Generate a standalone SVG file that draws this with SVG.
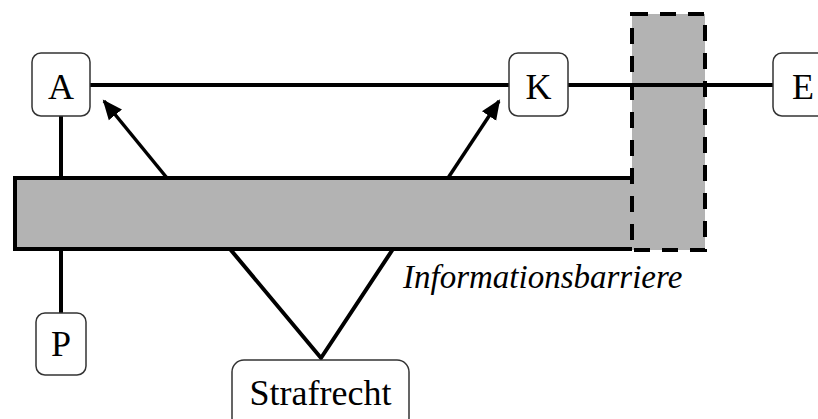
<svg xmlns="http://www.w3.org/2000/svg" width="818" height="419" viewBox="0 0 818 419">
<style>
.node{fill:#fff;stroke:#333;stroke-width:1.5}
.lbl{font-family:"Liberation Serif","Times New Roman",serif;font-size:36px;fill:#000;text-anchor:middle}
.ital{font-family:"Liberation Serif","Times New Roman",serif;font-size:33px;font-style:italic;fill:#000}
.ln{stroke:#000;stroke-width:4;fill:none}
.arr{stroke:#000;stroke-width:3.5;fill:none;marker-end:url(#ah)}
</style>
<defs>
<marker id="ah" markerUnits="userSpaceOnUse" markerWidth="22" markerHeight="18" refX="18" refY="8.5" orient="auto" viewBox="0 0 22 17">
<path d="M0,0 L20,8.5 L0,17 Z" fill="#000"/>
</marker>
</defs>
<g id="barrier-horizontal">
<rect x="15" y="178" width="618" height="71" fill="#b3b3b3"/>
<path d="M632,178 H15 V249 H632" class="ln"/>
</g>
<g id="barrier-vertical">
<rect x="632" y="14" width="73" height="236" fill="#b3b3b3" stroke="#000" stroke-width="4" stroke-dasharray="16,12"/>
</g>
<g id="connectors">
<line x1="90" y1="85" x2="773" y2="85" class="ln"/>
<line x1="61" y1="116" x2="61" y2="178" class="ln"/>
<line x1="61" y1="249" x2="61" y2="313" class="ln"/>
<polyline points="230,249 321,358 393,249" class="ln" stroke-linejoin="miter"/>
<line x1="167" y1="178" x2="104" y2="101" class="arr"/>
<line x1="448" y1="178" x2="499" y2="101" class="arr"/>
</g>
<g id="node-A">
<rect x="32" y="53" width="58" height="63" rx="9" class="node"/>
<text x="61" y="99" class="lbl">A</text>
</g>
<g id="node-K">
<rect x="509" y="53" width="59" height="63" rx="9" class="node"/>
<text x="538.5" y="99" class="lbl">K</text>
</g>
<g id="node-E">
<rect x="773" y="53" width="60" height="63" rx="9" class="node"/>
<text x="803" y="99" class="lbl">E</text>
</g>
<g id="node-P">
<rect x="36" y="313" width="50" height="62" rx="9" class="node"/>
<text x="61" y="356" class="lbl">P</text>
</g>
<g id="node-Strafrecht">
<rect x="232" y="360" width="177" height="70" rx="12" class="node"/>
<text x="320.5" y="405" class="lbl">Strafrecht</text>
</g>
<g id="label-Informationsbarriere">
<text x="403" y="288" class="ital">Informationsbarriere</text>
</g>
</svg>
